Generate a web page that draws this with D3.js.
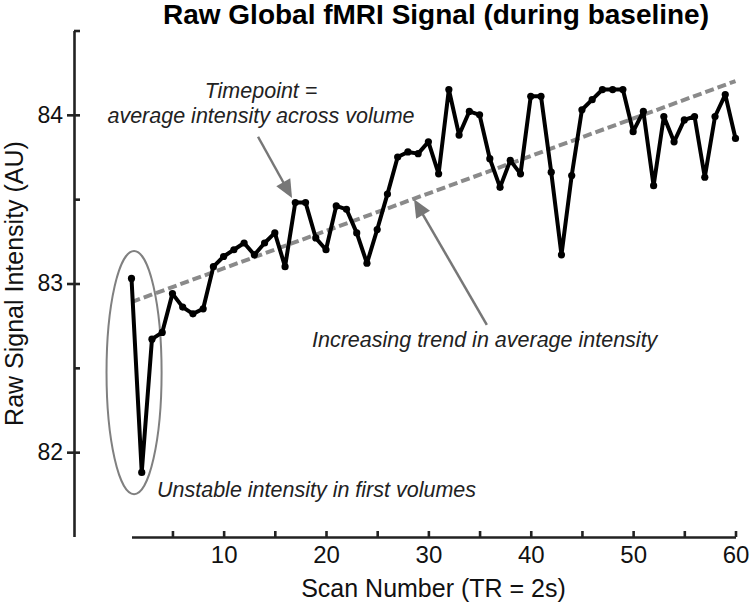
<!DOCTYPE html>
<html>
<head>
<meta charset="utf-8">
<script src="https://cdn.jsdelivr.net/npm/d3@7"></script>
<style>
  html, body { margin: 0; padding: 0; background: #fff; }
  svg { display: block; }
  text { font-family: "Liberation Sans", Arial, sans-serif; }
</style>
</head>
<body>
<svg id="chart" width="756" height="608"></svg>
<script>
// ---------- data ----------
const signal = [
  83.03, 81.88, 82.67, 82.71, 82.94, 82.86, 82.82, 82.85, 83.10, 83.16,
  83.20, 83.24, 83.17, 83.24, 83.30, 83.10, 83.48, 83.48, 83.27, 83.20,
  83.46, 83.44, 83.30, 83.12, 83.32, 83.53, 83.75, 83.78, 83.77, 83.84,
  83.65, 84.15, 83.88, 84.02, 84.00, 83.74, 83.57, 83.73, 83.65, 84.11,
  84.11, 83.66, 83.17, 83.64, 84.03, 84.09, 84.15, 84.15, 84.15, 83.90,
  84.02, 83.58, 83.99, 83.84, 83.97, 83.99, 83.63, 83.99, 84.12, 83.86
];
const trendScan = [1, 60];
const trendValue = [82.89, 84.20];

const xTicks = [5, 10, 15, 20, 25, 30, 35, 40, 45, 50, 55, 60];
const xTickLabels = [10, 20, 30, 40, 50, 60];
const yTicks = [82, 82.5, 83, 83.5, 84, 84.5];
const yTickLabels = [82, 83, 84];

const titleText = "Raw Global fMRI Signal (during baseline)";
const xLabelText = "Scan Number (TR = 2s)";
const yLabelText = "Raw Signal Intensity (AU)";

const notes = [
  { lines: ["Timepoint =", "average intensity across volume"], scan: 13.65, value: [84.10, 83.953], anchor: "middle" },
  { lines: ["Increasing trend in average intensity"], scan: 18.63, value: [82.623], anchor: "start" },
  { lines: ["Unstable intensity in first volumes"], scan: 3.49, value: [81.733], anchor: "start" }
];
const arrowsFrom = [[13.36, 83.87], [35.71, 82.754]];
const arrowsTo   = [[16.68, 83.507], [28.60, 83.50]];
const ellipseCenter = [1.25, 82.472];
const ellipseRadius = [2.69, 0.721];

// ---------- scales ----------
const svg = d3.select("#chart");
svg.append("rect").attr("width", 756).attr("height", 608).attr("fill", "#fff");

const x = d3.scaleLinear().domain([1, 60]).range([131.5, 735.5]);
const y = d3.scaleLinear().domain([81.5, 84.5]).range([536.5, 30.5]);

const axisColor = "#222";

// ---------- title ----------
svg.append("text")
  .attr("x", 436).attr("y", 24)
  .attr("text-anchor", "middle")
  .attr("font-size", 28).attr("font-weight", "bold")
  .attr("fill", "#000")
  .text(titleText);

// ---------- y axis ----------
const yAxisX = x.range()[0] - 57.5;
const yAxis = d3.axisLeft(y)
  .tickValues(yTicks)
  .tickSize(0)
  .tickFormat(d => yTickLabels.includes(d) ? d3.format("d")(d) : "");
const gy = svg.append("g").attr("transform", `translate(${yAxisX},0)`).call(yAxis);
gy.select(".domain").attr("stroke", axisColor).attr("stroke-width", 2.6);
gy.selectAll(".tick line").remove();
gy.selectAll(".tick").append("line")
  .attr("x1", d => yTickLabels.includes(d) ? -7 : 0)
  .attr("x2", 6)
  .attr("stroke", axisColor).attr("stroke-width", 2.6);
gy.selectAll(".tick text")
  .attr("x", -11)
  .attr("font-size", 23)
  .attr("font-family", "Liberation Sans, Arial, sans-serif")
  .attr("fill", "#111");

// ---------- x axis ----------
const xAxisY = y.range()[0] + 0.5;
const xAxis = d3.axisBottom(x)
  .tickValues(xTicks)
  .tickSize(0)
  .tickFormat(d => xTickLabels.includes(d) ? d3.format("d")(d) : "");
const gx = svg.append("g").attr("transform", `translate(0,${xAxisY})`).call(xAxis);
gx.select(".domain").attr("stroke", axisColor).attr("stroke-width", 2.6);
gx.selectAll(".tick line").remove();
gx.selectAll(".tick").append("line")
  .attr("y1", 0).attr("y2", -6)
  .attr("stroke", axisColor).attr("stroke-width", 2.6);
gx.selectAll(".tick text")
  .attr("y", 9)
  .attr("dy", "0.71em")
  .attr("font-size", 24)
  .attr("font-family", "Liberation Sans, Arial, sans-serif")
  .attr("fill", "#111");

// axis labels
svg.append("text")
  .attr("x", d3.mean(x.range())).attr("y", 597)
  .attr("text-anchor", "middle")
  .attr("font-size", 25).attr("fill", "#111")
  .text(xLabelText);
svg.append("text")
  .attr("transform", `translate(23,${d3.mean(y.range()) + 0})rotate(-90)`)
  .attr("text-anchor", "middle")
  .attr("font-size", 25).attr("fill", "#111")
  .text(yLabelText);

// ---------- trend line ----------
const trend = trendScan.map((s, i) => [s, trendValue[i]]);
svg.append("path")
  .datum(trend)
  .attr("d", d3.line().x(d => x(d[0])).y(d => y(d[1])))
  .attr("fill", "none")
  .attr("stroke", "#8a8a8a")
  .attr("stroke-width", 4)
  .attr("stroke-dasharray", "9,4");

// ---------- ellipse ----------
svg.append("ellipse")
  .attr("cx", x(ellipseCenter[0]))
  .attr("cy", y(ellipseCenter[1]))
  .attr("rx", x(1 + ellipseRadius[0]) - x(1))
  .attr("ry", y(82) - y(82 + ellipseRadius[1]))
  .attr("fill", "none")
  .attr("stroke", "#808080")
  .attr("stroke-width", 2);

// ---------- signal line ----------
const pts = signal.map((v, i) => [i + 1, v]);
svg.append("path")
  .datum(pts)
  .attr("d", d3.line().x(d => x(d[0])).y(d => y(d[1])))
  .attr("fill", "none")
  .attr("stroke", "#000")
  .attr("stroke-width", 4)
  .attr("stroke-linejoin", "round");
svg.append("g").selectAll("circle")
  .data(pts).join("circle")
  .attr("cx", d => x(d[0]))
  .attr("cy", d => y(d[1]))
  .attr("r", 3.6)
  .attr("fill", "#000");

// ---------- arrows ----------
arrowsFrom.forEach((f, i) => {
  const t = arrowsTo[i];
  const x0 = x(f[0]), y0 = y(f[1]), x1 = x(t[0]), y1 = y(t[1]);
  const dx = x1 - x0, dy = y1 - y0, len = Math.hypot(dx, dy);
  const ux = dx / len, uy = dy / len;
  const headLen = 18, headHalf = 8;
  const bx = x1 - ux * headLen, by = y1 - uy * headLen;
  svg.append("line")
    .attr("x1", x0).attr("y1", y0).attr("x2", bx + ux * 2).attr("y2", by + uy * 2)
    .attr("stroke", "#777").attr("stroke-width", 2.5);
  svg.append("path")
    .attr("d", d3.line()([
      [x1, y1],
      [bx - uy * headHalf, by + ux * headHalf],
      [bx + uy * headHalf, by - ux * headHalf]
    ]) + "Z")
    .attr("fill", "#777");
});

// ---------- annotation text ----------
notes.forEach(n => {
  n.lines.forEach((line, j) => {
    svg.append("text")
      .attr("x", x(n.scan))
      .attr("y", y(n.value[j]))
      .attr("text-anchor", n.anchor)
      .attr("font-size", 21.5)
      .attr("font-style", "italic")
      .attr("fill", "#222")
      .text(line);
  });
});
</script>
</body>
</html>
